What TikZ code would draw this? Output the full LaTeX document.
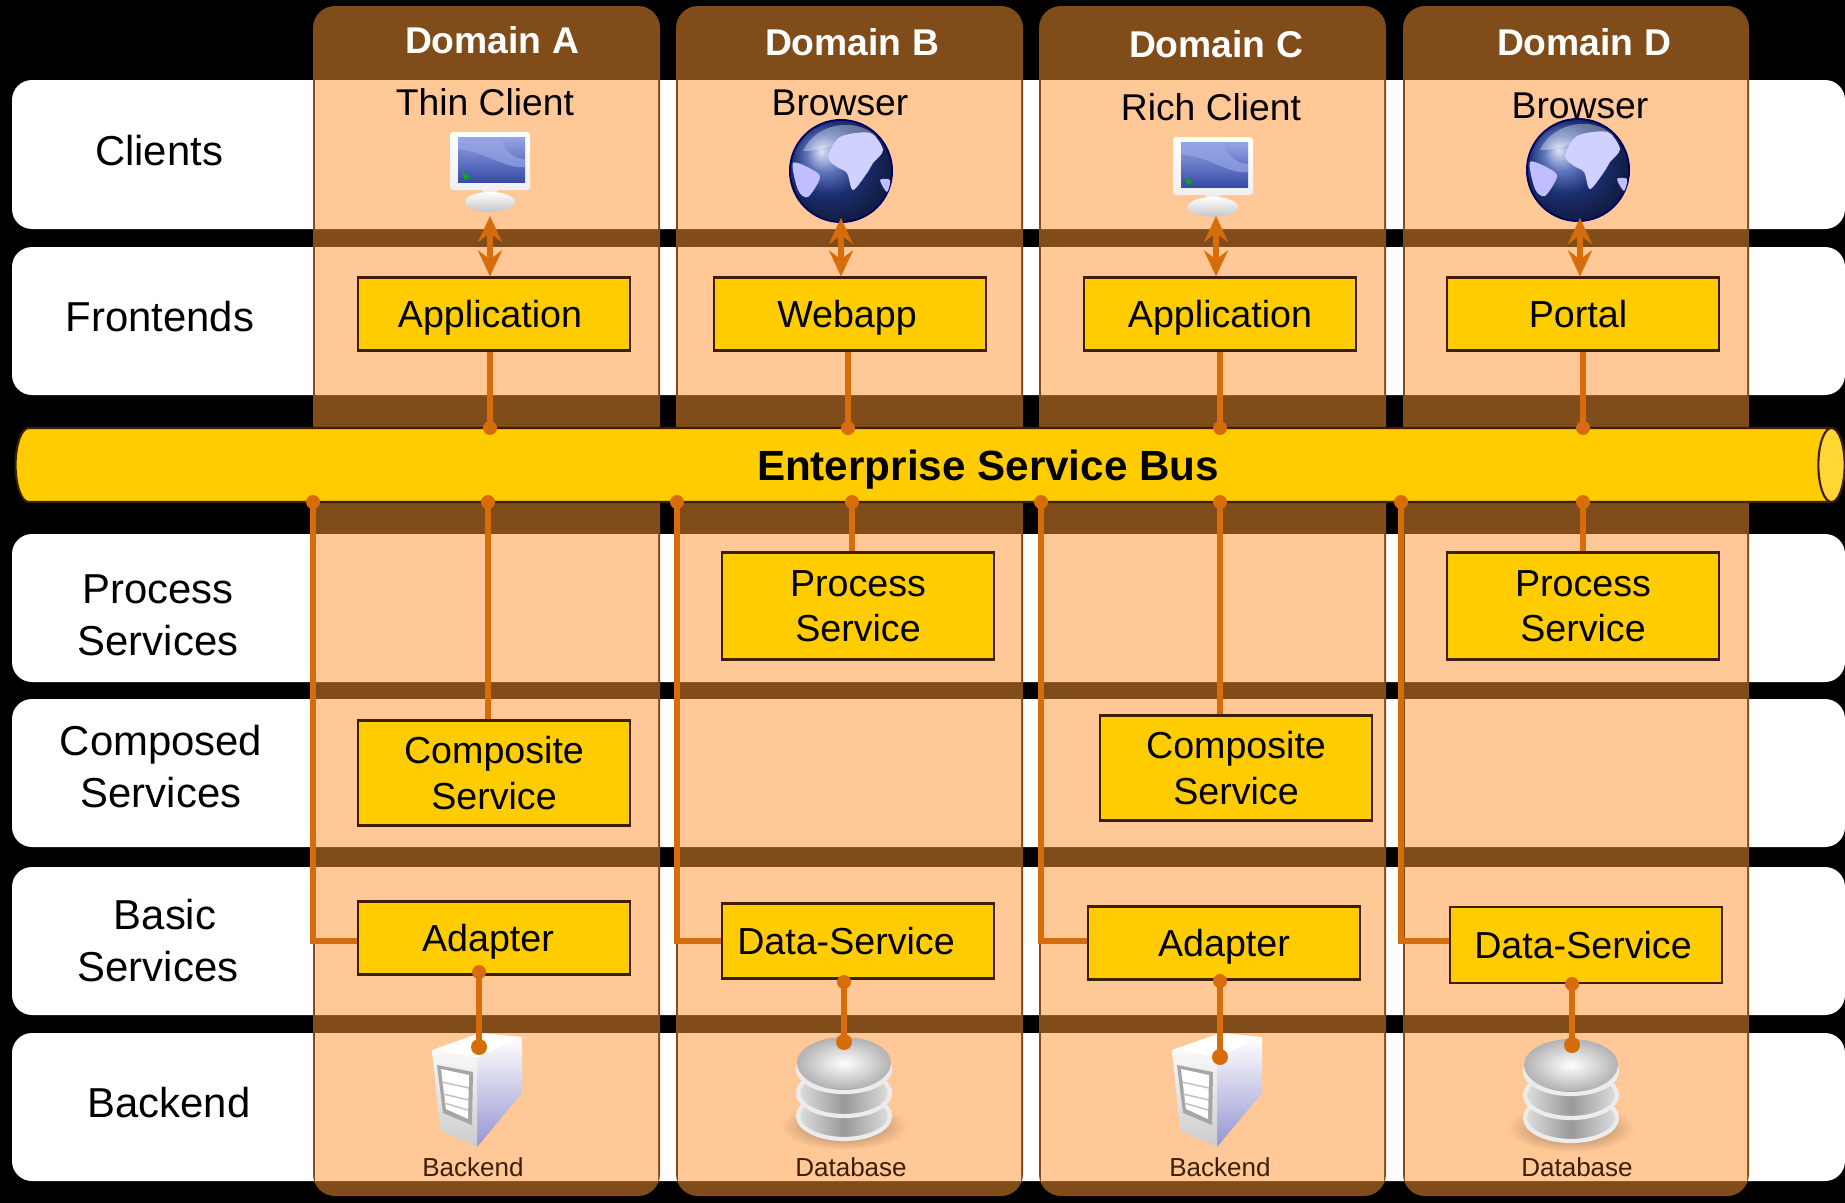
\documentclass[tikz,border=0pt]{standalone}
\usepackage{fontspec}
\setmainfont{Liberation Sans}
\usepackage{tikz}
\usetikzlibrary{shapes.geometric}
\usetikzlibrary{arrows.meta}
\definecolor{peach}{RGB}{255,200,150}
\definecolor{domainbrown}{RGB}{127,76,26}
\definecolor{svcyellow}{RGB}{255,204,0}
\definecolor{wireorange}{RGB}{215,108,10}
\definecolor{boxedge}{RGB}{60,30,10}
\definecolor{screenlight}{RGB}{150,165,230}
\definecolor{screendark}{RGB}{55,75,165}
\definecolor{globeblue}{RGB}{40,70,165}
\tikzset{
	rowband/.style={fill=white,rounded corners=0.2cm},
	domainbg/.style={fill=domainbrown,rounded corners=0.22cm},
	cell/.style={fill=peach},
	svcbox/.style={draw=boxedge,line width=0.6pt,fill=svcyellow,inner sep=0pt,minimum width=2.72cm,align=center,text depth=0pt,font=\fontsize{10.7}{13}\selectfont},
	twolines/.style={execute at begin node={\rule{0pt}{11.7pt}}},
	rowlabel/.style={align=center,font=\fontsize{11.9}{14.8}\selectfont},
	domainlabel/.style={text=white,font=\fontsize{10.6}{13}\selectfont\bfseries},
	clientlabel/.style={font=\fontsize{10.6}{13}\selectfont},
	smalllabel/.style={text=boxedge,font=\fontsize{7.4}{9}\selectfont},
	wire/.style={draw=wireorange,line width=1.5pt},
	duplex/.style={wire,line width=1.7pt,{Stealth[length=0.26cm,width=0.24cm,inset=0.09cm]}-{Stealth[length=0.26cm,width=0.24cm,inset=0.09cm]}},
	wiredot/.style={fill=wireorange},
	monitor/.pic={
		\shade[top color=white,bottom color=white!88!gray,rounded corners=0.03cm] (-40,-29) rectangle (40,29);
		\shade[top color=screenlight,bottom color=screendark] (-32,-24) rectangle (35,21);
		\fill[screenlight,opacity=0.7] (-32,-24) -- (10,-24) .. controls (14,-10) and (24,-2) .. (35,-2) -- (35,6) .. controls (14,8) and (0,-8) .. (-32,-12) -- cycle;
		\fill[green!70!black] (-28,11) -- (-20,16) -- (-25,19) -- cycle;
		\fill[white!85!gray] (-7,29) rectangle (7,38);
		\shade[top color=white,bottom color=gray!45] (0,41) ellipse (25 and 10);
	},
	globe/.pic={
		\fill[blue!40!black] (0,0) circle (52);
		\shade[ball color=globeblue] (0,0) circle (50);
		\fill[white,opacity=0.35] (-38,-20) .. controls (-25,-48) and (15,-55) .. (36,-34) .. controls (10,-34) and (-12,-20) .. (-38,-20) -- cycle;
		\fill[white!82!blue] plot[smooth cycle] coordinates {(-13,-14) (-1,-34) (29,-38) (42,-21) (32,-8) (26,2) (12,19) (6,2) (-4,-4)};
		\fill[white!75!blue] plot[smooth cycle] coordinates {(-48,-8) (-28,-1) (-21,7) (-33,26) (-43,19)};
		\fill[white!75!blue] plot[smooth cycle] coordinates {(39,9) (49,9) (46,21)};
	},
	server/.pic={
		\fill[white] (-45,-40) -- (3,-57) -- (45,-53) -- (0,-32) -- cycle;
		\shade[top color=white,bottom color=gray!60!blue!60] (0,-32) -- (45,-53) -- (45,3) -- (0,57) -- cycle;
		\shade[top color=white!95!gray,bottom color=gray!40] (-45,-40) -- (0,-32) -- (0,57) -- (-37,40) -- cycle;
		\fill[gray!70] (-40,-25) -- (-4,-18) -- (-5,35) -- (-34,23) -- cycle;
		\fill[white] (-36,-21) -- (-8,-15) -- (-9,29) -- (-31,19) -- cycle;
		\draw[gray!50] (-35,-8) -- (-8,-2);
		\draw[gray!50] (-34,4) -- (-8,10);
		\draw[gray!50] (-33,13) -- (-9,20);
	},
	dbstack/.pic={
		\shade[inner color=peach!55!black,outer color=peach] (0,38) ellipse (64 and 24);
		\foreach \disk in {28,5,-19}{
			\shade[left color=gray!25,right color=gray!25,middle color=gray!80,draw=white!85!gray,line width=1.2pt] (0,\disk) ellipse (46 and 23);
		}
		\shade[inner color=white,outer color=gray!60] (0,-25) ellipse (47 and 26);
	},
}
\begin{document}
\begin{tikzpicture}[x=0.01cm,y=-0.01cm]
	\useasboundingbox (0,0) rectangle (1845,1203);
	\fill[black] (0,0) rectangle (1845,1203);
	% rows
	\fill[rowband] (12,80) rectangle (1845,229);
	\fill[rowband] (12,247) rectangle (1845,395);
	\fill[rowband] (12,534) rectangle (1845,682);
	\fill[rowband] (12,699) rectangle (1845,847);
	\fill[rowband] (12,867) rectangle (1845,1015);
	\fill[rowband] (12,1033) rectangle (1845,1181);
	\node[rowlabel] (clients) at (159,151) {Clients};
	\node[rowlabel] (frontends) at (160,317) {Frontends};
	\node[rowlabel] (processrow) at (158,615) {Process\\Services};
	\node[rowlabel] (composedrow) at (161,767) {Composed\\Services};
	\node[rowlabel] (basicrow) at (160,941) {\hspace*{0.1cm}Basic\\Services\hspace*{0.04cm}};
	\node[rowlabel] (backendrow) at (169,1103) {Backend};
	% domains
	\fill[domainbg] (313,6) rectangle (660,1196);
	\fill[domainbg] (676,6) rectangle (1023,1196);
	\fill[domainbg] (1039,6) rectangle (1386,1196);
	\fill[domainbg] (1403,6) rectangle (1749,1196);
	\fill[cell] (315,80) rectangle (658,229) (315,247) rectangle (658,395) (315,534) rectangle (658,682) (315,699) rectangle (658,847) (315,867) rectangle (658,1015) (315,1033) rectangle (658,1181);
	\fill[cell] (678,80) rectangle (1021,229) (678,247) rectangle (1021,395) (678,534) rectangle (1021,682) (678,699) rectangle (1021,847) (678,867) rectangle (1021,1015) (678,1033) rectangle (1021,1181);
	\fill[cell] (1041,80) rectangle (1384,229) (1041,247) rectangle (1384,395) (1041,534) rectangle (1384,682) (1041,699) rectangle (1384,847) (1041,867) rectangle (1384,1015) (1041,1033) rectangle (1384,1181);
	\fill[cell] (1405,80) rectangle (1747,229) (1405,247) rectangle (1747,395) (1405,534) rectangle (1747,682) (1405,699) rectangle (1747,847) (1405,867) rectangle (1747,1015) (1405,1033) rectangle (1747,1181);
	\node[domainlabel] (domA) at (492,40) {Domain A};
	\node[domainlabel] (domB) at (852,42) {Domain B};
	\node[domainlabel] (domC) at (1216,44) {Domain C};
	\node[domainlabel] (domD) at (1584,42) {Domain D};
	% clients and backends
	\node[clientlabel] (thinlabel) at (485,102) {Thin Client};
	\node[clientlabel] (browserB) at (840,103) {Browser};
	\node[clientlabel] (richlabel) at (1211,107) {Rich Client};
	\node[clientlabel] (browserD) at (1580,106) {Browser};
	\pic at (490,161) {monitor};
	\pic at (841,171) {globe};
	\pic at (1213,166) {monitor};
	\pic at (1578,170) {globe};
	\pic at (477,1090) {server};
	\pic at (844,1088) {dbstack};
	\pic at (1217,1090) {server};
	\pic at (1571,1090) {dbstack};
	\node[smalllabel] (backA) at (473,1167) {Backend};
	\node[smalllabel] (dataB) at (851,1167) {Database};
	\node[smalllabel] (backC) at (1220,1167) {Backend};
	\node[smalllabel] (dataD) at (1577,1167) {Database};
	% service boxes
	\node[svcbox,minimum height=0.73cm] (appA) at (494,314) {Application\hspace*{0.08cm}};
	\node[svcbox,minimum height=0.73cm] (webB) at (850,314) {Webapp\hspace*{0.06cm}};
	\node[svcbox,minimum height=0.73cm] (appC) at (1220,314) {Application};
	\node[svcbox,minimum height=0.73cm] (portalD) at (1583,314) {Portal\hspace*{0.1cm}};
	\node[svcbox,twolines,minimum height=1.07cm] (procB) at (858,606) {Process\\Service};
	\node[svcbox,twolines,minimum height=1.07cm] (procD) at (1583,606) {Process\\Service};
	\node[svcbox,twolines,minimum height=1.05cm] (compA) at (494,773) {Composite\\Service};
	\node[svcbox,twolines,minimum height=1.05cm] (compC) at (1236,768) {Composite\\Service};
	\node[svcbox,minimum height=0.73cm] (adaptA) at (494,938) {Adapter\hspace*{0.12cm}};
	\node[svcbox,minimum height=0.75cm] (dsB) at (858,941) {Data-Service\hspace*{0.24cm}};
	\node[svcbox,minimum height=0.73cm] (adaptC) at (1224,943) {Adapter};
	\node[svcbox,minimum height=0.76cm] (dsD) at (1586,945) {Data-Service\hspace*{0.06cm}};
	% bus
	\node[cylinder,shape aspect=0.86,draw=boxedge,line width=0.6pt,cylinder uses custom fill,cylinder body fill=svcyellow,cylinder end fill=svcyellow!80!white,minimum width=0.74cm,minimum height=18.28cm,inner sep=0pt,text depth=0pt,font=\fontsize{12}{14}\selectfont\bfseries] (bus) at (923,465) {\hspace*{1.3cm}Enterprise Service Bus};
	% connector ends
	\coordinate (busupA) at (490,428);
	\coordinate (busupB) at (848,428);
	\coordinate (busupC) at (1220,428);
	\coordinate (busupD) at (1583,428);
	\coordinate (busdownA) at (488,502);
	\coordinate (busdownB) at (852,502);
	\coordinate (busdownC) at (1220,502);
	\coordinate (busdownD) at (1583,502);
	\coordinate (tapA) at (313,502);
	\coordinate (tapB) at (677,502);
	\coordinate (tapC) at (1041,502);
	\coordinate (tapD) at (1401,502);
	\coordinate (kneeA) at (313,941);
	\coordinate (kneeB) at (677,941);
	\coordinate (kneeC) at (1041,941);
	\coordinate (kneeD) at (1401,941);
	\coordinate (thinout) at (490,216);
	\coordinate (globeoutB) at (841,218);
	\coordinate (richout) at (1216,216);
	\coordinate (globeoutD) at (1580,218);
	\coordinate (adaptoutA) at (479,972);
	\coordinate (dsoutB) at (844,982);
	\coordinate (adaptoutC) at (1220,981);
	\coordinate (dsoutD) at (1572,984);
	\coordinate (serverA) at (479,1047);
	\coordinate (dbB) at (844,1042);
	\coordinate (serverC) at (1220,1057);
	\coordinate (dbD) at (1572,1045);
	% connectors
	\draw[duplex] (thinout) -- (thinout |- appA.north);
	\draw[duplex] (globeoutB) -- (globeoutB |- webB.north);
	\draw[duplex] (richout) -- (richout |- appC.north);
	\draw[duplex] (globeoutD) -- (globeoutD |- portalD.north);
	\draw[wire] (appA.south -| busupA) -- (busupA);
	\draw[wire] (webB.south -| busupB) -- (busupB);
	\draw[wire] (appC.south -| busupC) -- (busupC);
	\draw[wire] (portalD.south -| busupD) -- (busupD);
	\draw[wire] (busdownA) -- (busdownA |- compA.north);
	\draw[wire] (busdownB) -- (busdownB |- procB.north);
	\draw[wire] (busdownC) -- (busdownC |- compC.north);
	\draw[wire] (busdownD) -- (busdownD |- procD.north);
	\draw[wire] (tapA) -- (kneeA) -- (kneeA -| adaptA.west);
	\draw[wire] (tapB) -- (kneeB) -- (kneeB -| dsB.west);
	\draw[wire] (tapC) -- (kneeC) -- (kneeC -| adaptC.west);
	\draw[wire] (tapD) -- (kneeD) -- (kneeD -| dsD.west);
	\draw[wire] (adaptoutA) -- (serverA);
	\draw[wire] (dsoutB) -- (dbB);
	\draw[wire] (adaptoutC) -- (serverC);
	\draw[wire] (dsoutD) -- (dbD);
	% dots
	\fill[wiredot] (busupA) circle (7);
	\fill[wiredot] (busupB) circle (7);
	\fill[wiredot] (busupC) circle (7);
	\fill[wiredot] (busupD) circle (7);
	\fill[wiredot] (busdownA) circle (7);
	\fill[wiredot] (busdownB) circle (7);
	\fill[wiredot] (busdownC) circle (7);
	\fill[wiredot] (busdownD) circle (7);
	\fill[wiredot] (tapA) circle (7);
	\fill[wiredot] (tapB) circle (7);
	\fill[wiredot] (tapC) circle (7);
	\fill[wiredot] (tapD) circle (7);
	\fill[wiredot] (adaptoutA) circle (7);
	\fill[wiredot] (dsoutB) circle (7);
	\fill[wiredot] (adaptoutC) circle (7);
	\fill[wiredot] (dsoutD) circle (7);
	\fill[wiredot] (serverA) circle (8);
	\fill[wiredot] (dbB) circle (8);
	\fill[wiredot] (serverC) circle (8);
	\fill[wiredot] (dbD) circle (8);
\end{tikzpicture}
\end{document}
